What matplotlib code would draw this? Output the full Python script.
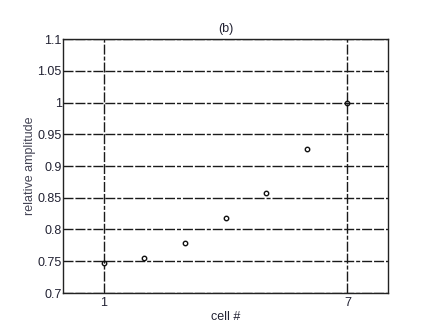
import matplotlib
matplotlib.use("Agg")
import matplotlib.pyplot as plt

cells = [1, 2, 3, 4, 5, 6, 7]
amplitude = [0.747, 0.755, 0.779, 0.818, 0.857, 0.926, 1.0]
xticks = [1, 7]
yticks = [0.7, 0.75, 0.8, 0.85, 0.9, 0.95, 1.0, 1.05, 1.1]
ytick_labels = ["0.7", "0.75", "0.8", "0.85", "0.9", "0.95", "1", "1.05", "1.1"]

plt.rcParams['font.family'] = ['Liberation Sans', 'DejaVu Sans']
txt = '#222233'

fig = plt.figure(figsize=(4.23, 3.27), dpi=100)
ax = fig.add_axes([63/423, 1 - 293/327, (388-63)/423, (293-39)/327])

ax.plot(cells, amplitude, linestyle='none', marker='o', markersize=3.2,
        markerfacecolor='none', markeredgecolor='#111111', markeredgewidth=1.0)

ax.set_xlim(0, 8)
ax.set_ylim(0.7, 1.1)
ax.set_xticks(xticks)
ax.set_xticklabels([str(t) for t in xticks])
ax.set_yticks(yticks)
ax.set_yticklabels(ytick_labels)
ax.tick_params(axis='both', length=0, labelsize=9, colors=txt, pad=1)
ax.tick_params(axis='x', pad=3)

ax.grid(True, color='#1a1a1a', linestyle=(0, (7.2, 1.4, 7.2, 1.4, 2.9, 1.4)), linewidth=1.0)
ax.set_axisbelow(True)
for s in ax.spines.values():
    s.set_linewidth(1.0)
    s.set_color('#222222')

ax.set_title('(b)', fontsize=9, color=txt, pad=5)
ax.set_xlabel('cell #', fontsize=9, color=txt, labelpad=1)
ax.set_ylabel('relative amplitude', fontsize=9, color='#444455', labelpad=1)

fig.savefig('out.png', dpi=100)
